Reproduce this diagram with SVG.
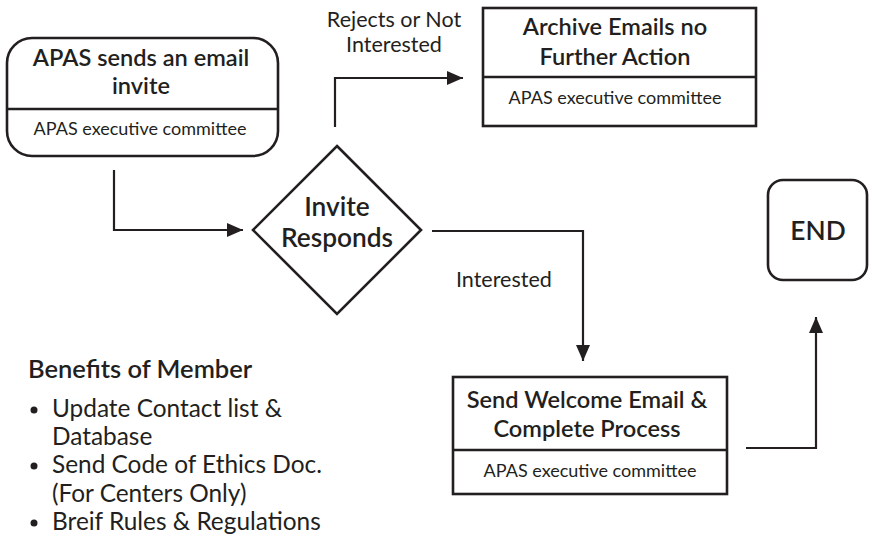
<svg xmlns="http://www.w3.org/2000/svg" width="870" height="538" viewBox="0 0 870 538">
<style>
.box{fill:#fff;stroke:#231f20;stroke-width:2.6}
.div{stroke:#231f20;stroke-width:2.6}
.t{font-family:Lato,"Open Sans","Liberation Sans",sans-serif;fill:#231f20}
.h{font-size:23.6px;font-weight:600;text-anchor:middle}
.d{font-size:26.3px;font-weight:600;text-anchor:middle}
.s{font-size:18px;text-anchor:middle}
.l{font-size:21.5px}
.b{font-size:24.4px}
.conn{fill:none;stroke:#231f20;stroke-width:2.2}
</style>
<defs>
<marker id="ah" markerUnits="userSpaceOnUse" markerWidth="16" markerHeight="14" refX="16" refY="7" orient="auto">
<path d="M0,0 L16,7 L0,14 z" fill="#231f20"/>
</marker>
</defs>
<rect width="870" height="538" fill="#fff"/>
<g id="connectors">
<path class="conn" d="M114,170 V230 H243" marker-end="url(#ah)"/>
<path class="conn" d="M335,127 V78 H463" marker-end="url(#ah)"/>
<path class="conn" d="M432,231 H583 V361" marker-end="url(#ah)"/>
<path class="conn" d="M746,448 H816 V317" marker-end="url(#ah)"/>
<text class="t l" x="394" y="27" text-anchor="middle">Rejects or Not</text>
<text class="t l" x="394" y="52" text-anchor="middle">Interested</text>
<text class="t l" x="456" y="287">Interested</text>
</g>
<g id="start">
<rect class="box" x="7" y="38" width="271" height="118" rx="25"/>
<line class="div" x1="7" y1="109" x2="278" y2="109"/>
<text class="t h" x="141" y="66">APAS sends an email</text>
<text class="t h" x="141" y="94">invite</text>
<text class="t s" x="140" y="135">APAS executive committee</text>
</g>
<g id="decision">
<polygon class="box" points="337,146 421,230 337,314 253,230"/>
<text class="t d" x="337" y="216">Invite</text>
<text class="t d" x="337" y="247">Responds</text>
</g>
<g id="archive">
<rect class="box" x="483" y="8" width="273" height="118"/>
<line class="div" x1="483" y1="77" x2="756" y2="77"/>
<text class="t h" x="615" y="35">Archive Emails no</text>
<text class="t h" x="615" y="65">Further Action</text>
<text class="t s" x="615" y="104">APAS executive committee</text>
</g>
<g id="welcome">
<rect class="box" x="453" y="377" width="274" height="117"/>
<line class="div" x1="453" y1="450" x2="727" y2="450"/>
<text class="t h" x="587" y="408">Send Welcome Email &amp;</text>
<text class="t h" x="587" y="437">Complete Process</text>
<text class="t s" x="590" y="477">APAS executive committee</text>
</g>
<g id="end">
<rect class="box" x="768" y="180" width="99" height="100" rx="15"/>
<text class="t d" x="818" y="240">END</text>
</g>
<g id="benefits">
<text class="t" x="28" y="378" font-size="25.5" font-weight="600">Benefits of Member</text>
<circle cx="34" cy="410" r="3.5" fill="#231f20"/>
<circle cx="34" cy="466" r="3.5" fill="#231f20"/>
<circle cx="34" cy="523" r="3.5" fill="#231f20"/>
<text class="t b" x="52" y="417">Update Contact list &amp;</text>
<text class="t b" x="52" y="445">Database</text>
<text class="t b" x="52" y="473">Send Code of Ethics Doc.</text>
<text class="t b" x="52" y="502">(For Centers Only)</text>
<text class="t b" x="52" y="530">Breif Rules &amp; Regulations</text>
</g>
</svg>
